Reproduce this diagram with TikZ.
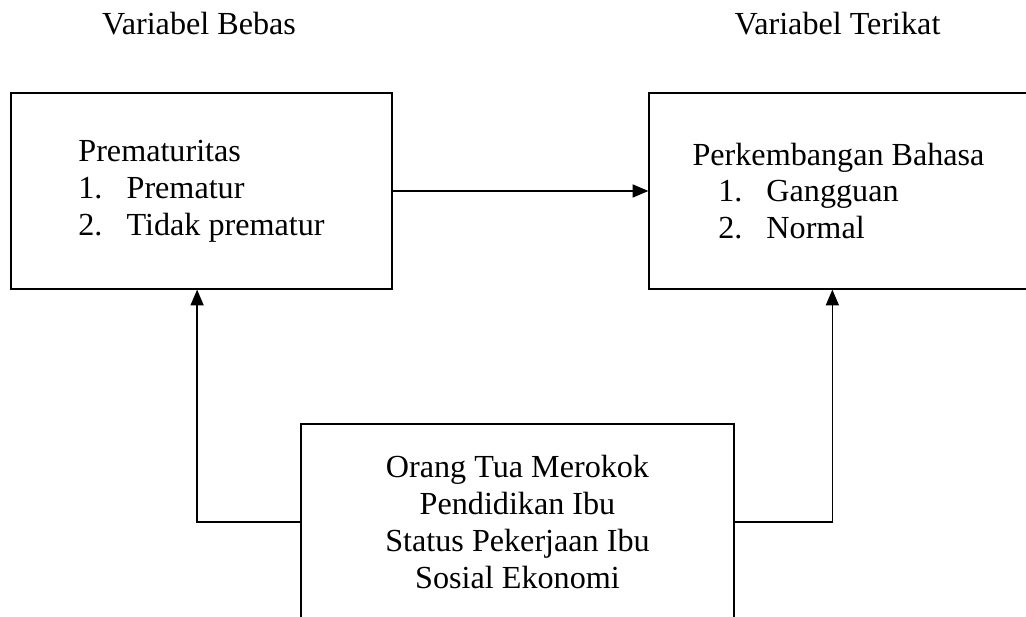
\documentclass[tikz,border=0pt]{standalone}
\usepackage{fontspec}
\setmainfont{Liberation Serif}
\usepackage{tikz}
\usetikzlibrary{arrows.meta, positioning, calc}

\newcommand{\itemno}[1]{\makebox[1.5em][l]{#1}}

\begin{document}
\begin{tikzpicture}[x=0.02cm, y=0.02cm,
    every node/.style={font=\fontsize{18.3pt}{21pt}\selectfont},
    varbox/.style={draw, line width=0.8pt, rectangle, minimum height=3.92cm, inner sep=0pt},
    link/.style={line width=0.7pt, -{Triangle[length=9pt, width=7.5pt]}}]
    % =========================================================
    % CANVAS (REFERENCE IS CROPPED ON THE RIGHT AND BOTTOM)
    % =========================================================
    \useasboundingbox (0,0) rectangle (1026,617);
    \clip (0,0) rectangle (1026,617);

    % =========================================================
    % COLUMN HEADINGS
    % =========================================================
    \node[anchor=base] (bebas) at (199,582) {Variabel Bebas};
    \node[anchor=base] (terikat) at (837.5,582) {Variabel Terikat};

    % =========================================================
    % INDEPENDENT AND DEPENDENT VARIABLE BOXES
    % =========================================================
    \node[varbox, minimum width=7.62cm, align=left] (prem) at (201.5,426) {
        Prematuritas\\
        \itemno{1.}Prematur\\
        \itemno{2.}Tidak prematur
    };
    \node[varbox, minimum width=7.58cm, align=left] (bahasa) at (838.5,426) {
        Perkembangan Bahasa\\
        \hspace{0.8em}\itemno{1.}Gangguan\\
        \hspace{0.8em}\itemno{2.}Normal
    };

    % =========================================================
    % CONFOUNDING VARIABLES BOX
    % =========================================================
    \node[varbox, minimum width=8.66cm, align=center] (cause) at (517.5,95) {
        Orang Tua Merokok\\
        Pendidikan Ibu\\
        Status Pekerjaan Ibu\\
        Sosial Ekonomi
    };

    % =========================================================
    % CONNECTORS
    % =========================================================
    \draw[link] (prem.east) -- (bahasa.west);
    \draw[link] (cause.west) -| ([xshift=-2.5]prem.south);
    \draw[link] (cause.east) -| ([xshift=-3.5]bahasa.south);
\end{tikzpicture}
\end{document}
